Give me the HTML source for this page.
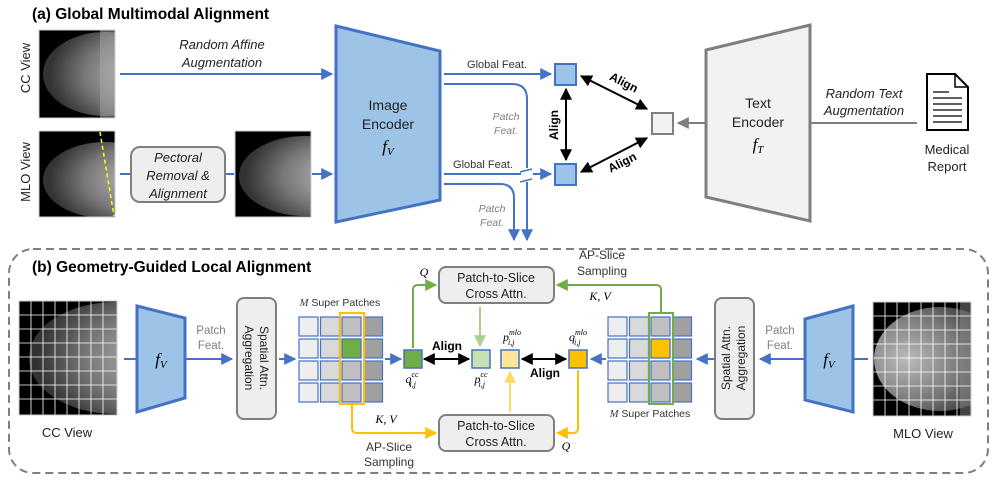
<!DOCTYPE html>
<html><head><meta charset="utf-8"><style>
body{margin:0;background:#fff;}
svg{display:block;font-family:"Liberation Sans",sans-serif;}
</style></head><body>
<svg width="997" height="480" viewBox="0 0 997 480" xmlns="http://www.w3.org/2000/svg">
<defs>
<marker id="ab" viewBox="0 0 10 10" refX="9" refY="5" markerWidth="6" markerHeight="6" orient="auto-start-reverse"><path d="M0,0L10,5L0,10z" fill="#4472c4"/></marker>
<marker id="ak" viewBox="0 0 10 10" refX="9" refY="5" markerWidth="6" markerHeight="6" orient="auto-start-reverse"><path d="M0,0L10,5L0,10z" fill="#000"/></marker>
<marker id="ag" viewBox="0 0 10 10" refX="9" refY="5" markerWidth="6" markerHeight="6" orient="auto-start-reverse"><path d="M0,0L10,5L0,10z" fill="#70ad47"/></marker>
<marker id="alg" viewBox="0 0 10 10" refX="9" refY="5" markerWidth="6" markerHeight="6" orient="auto-start-reverse"><path d="M0,0L10,5L0,10z" fill="#a9d18e"/></marker>
<marker id="ay" viewBox="0 0 10 10" refX="9" refY="5" markerWidth="6" markerHeight="6" orient="auto-start-reverse"><path d="M0,0L10,5L0,10z" fill="#ffc000"/></marker>
<marker id="ay2" viewBox="0 0 10 10" refX="9" refY="5" markerWidth="6" markerHeight="6" orient="auto-start-reverse"><path d="M0,0L10,5L0,10z" fill="#ffd966"/></marker>
<marker id="agr" viewBox="0 0 10 10" refX="9" refY="5" markerWidth="6" markerHeight="6" orient="auto-start-reverse"><path d="M0,0L10,5L0,10z" fill="#7f7f7f"/></marker>
<radialGradient id="br" cx="0.75" cy="0.5" r="0.7"><stop offset="0" stop-color="#bbb"/><stop offset="0.6" stop-color="#777"/><stop offset="1" stop-color="#333"/></radialGradient>
<radialGradient id="brl" cx="0.25" cy="0.5" r="0.7"><stop offset="0" stop-color="#bbb"/><stop offset="0.6" stop-color="#777"/><stop offset="1" stop-color="#333"/></radialGradient>
<clipPath id="c1"><rect x="39" y="30" width="76" height="88"/></clipPath>
<clipPath id="c2"><rect x="39" y="131" width="76" height="86"/></clipPath>
<clipPath id="c3"><rect x="235" y="131" width="76" height="86"/></clipPath>
<clipPath id="c4"><rect x="19" y="301" width="98" height="114"/></clipPath>
<clipPath id="c5"><rect x="873" y="302" width="98" height="114"/></clipPath>
<g id="grid">
<g stroke="#4472c4" stroke-width="1.2">
<rect x="0" y="0" width="19" height="19" fill="#eee"/><rect x="21.5" y="0" width="19" height="19" fill="#d9d9d9"/><rect x="43" y="0" width="19" height="19" fill="#bfbfbf"/><rect x="64.5" y="0" width="19" height="19" fill="#a0a0a0"/>
<rect x="0" y="22" width="19" height="19" fill="#eee"/><rect x="21.5" y="22" width="19" height="19" fill="#d9d9d9"/><rect x="43" y="22" width="19" height="19" fill="#bfbfbf"/><rect x="64.5" y="22" width="19" height="19" fill="#a0a0a0"/>
<rect x="0" y="44" width="19" height="19" fill="#eee"/><rect x="21.5" y="44" width="19" height="19" fill="#d9d9d9"/><rect x="43" y="44" width="19" height="19" fill="#bfbfbf"/><rect x="64.5" y="44" width="19" height="19" fill="#a0a0a0"/>
<rect x="0" y="66" width="19" height="19" fill="#eee"/><rect x="21.5" y="66" width="19" height="19" fill="#d9d9d9"/><rect x="43" y="66" width="19" height="19" fill="#bfbfbf"/><rect x="64.5" y="66" width="19" height="19" fill="#a0a0a0"/>
</g></g>
<g id="wgrid" stroke="#fff" stroke-width="0.8" fill="none">
<path d="M12,0V114M24,0V114M36,0V114M48,0V114M60,0V114M72,0V114M84,0V114M0,14H98M0,28H98M0,42H98M0,56H98M0,70H98M0,84H98M0,98H98"/>
</g>
</defs>

<!-- (a) -->
<text x="32" y="19" font-size="15.5" font-weight="bold">(a) Global Multimodal Alignment</text>
<text transform="translate(30,68) rotate(-90)" font-size="13" text-anchor="middle" fill="#222">CC View</text>
<text transform="translate(30,172) rotate(-90)" font-size="13" text-anchor="middle" fill="#222">MLO View</text>
<rect x="39" y="30" width="76" height="88" fill="#000"/>
<g clip-path="url(#c1)"><ellipse cx="105" cy="74" rx="62" ry="42" fill="url(#br)"/>
<rect x="100" y="30" width="15" height="88" fill="#aaa" opacity="0.5"/></g>
<rect x="39" y="30" width="76" height="88" fill="none" stroke="#ccc"/>
<rect x="39" y="131" width="76" height="86" fill="#000"/>
<g clip-path="url(#c2)"><ellipse cx="105" cy="180" rx="62" ry="38" fill="url(#br)"/></g>
<rect x="39" y="131" width="76" height="86" fill="none" stroke="#ccc"/>
<line x1="100" y1="132" x2="114" y2="216" stroke="#ffff00" stroke-width="1.5" stroke-dasharray="4,3"/>
<rect x="235" y="131" width="76" height="86" fill="#000"/>
<g clip-path="url(#c3)"><ellipse cx="305" cy="176" rx="66" ry="40" fill="url(#br)"/></g>
<rect x="235" y="131" width="76" height="86" fill="none" stroke="#ccc"/>

<text x="222" y="49" font-size="13" font-style="italic" text-anchor="middle" fill="#222">Random Affine</text>
<text x="222" y="67" font-size="13" font-style="italic" text-anchor="middle" fill="#222">Augmentation</text>
<line x1="120" y1="74" x2="332" y2="74" stroke="#4472c4" stroke-width="2" marker-end="url(#ab)"/>
<line x1="120" y1="174" x2="130" y2="174" stroke="#4472c4" stroke-width="2"/>
<rect x="131" y="147" width="94" height="55" rx="9" fill="#eee" stroke="#7f7f7f" stroke-width="2"/>
<text x="178" y="162" font-size="13" font-style="italic" text-anchor="middle" fill="#222">Pectoral</text>
<text x="178" y="180" font-size="13" font-style="italic" text-anchor="middle" fill="#222">Removal &amp;</text>
<text x="178" y="198" font-size="13" font-style="italic" text-anchor="middle" fill="#222">Alignment</text>
<line x1="226" y1="174" x2="234" y2="174" stroke="#4472c4" stroke-width="2"/>
<line x1="312" y1="174" x2="332" y2="174" stroke="#4472c4" stroke-width="2" marker-end="url(#ab)"/>

<path d="M336,26 L440,51 L440,200 L336,222 Z" fill="#9dc3e6" stroke="#4472c4" stroke-width="3"/>
<text x="388" y="110" font-size="14" text-anchor="middle" fill="#222">Image</text>
<text x="388" y="129" font-size="14" text-anchor="middle" fill="#222">Encoder</text>
<text x="388" y="152" font-size="17" font-style="italic" font-family="Liberation Serif,serif" text-anchor="middle">f<tspan font-size="11" dy="3">V</tspan></text>

<text x="497" y="68" font-size="11" text-anchor="middle" fill="#333">Global Feat.</text>
<line x1="444" y1="74" x2="551" y2="74" stroke="#4472c4" stroke-width="2" marker-end="url(#ab)"/>
<path d="M444,84 H512 Q527,84 527,99 V240" fill="none" stroke="#4472c4" stroke-width="2" marker-end="url(#ab)"/>
<text x="506" y="120" font-size="10.5" font-style="italic" text-anchor="middle" fill="#7f7f7f">Patch</text>
<text x="506" y="134" font-size="10.5" font-style="italic" text-anchor="middle" fill="#7f7f7f">Feat.</text>
<text x="483" y="168" font-size="11" text-anchor="middle" fill="#333">Global Feat.</text>
<line x1="444" y1="174" x2="551" y2="174" stroke="#4472c4" stroke-width="2" marker-end="url(#ab)"/>
<path d="M444,184 H500 Q514,184 514,198 V240" fill="none" stroke="#4472c4" stroke-width="2" marker-end="url(#ab)"/>
<rect x="521" y="168" width="12" height="14" fill="#fff"/>
<line x1="520" y1="172" x2="532" y2="169" stroke="#4472c4" stroke-width="1.5"/>
<line x1="520" y1="182" x2="532" y2="179" stroke="#4472c4" stroke-width="1.5"/>
<text x="492" y="212" font-size="10.5" font-style="italic" text-anchor="middle" fill="#7f7f7f">Patch</text>
<text x="492" y="226" font-size="10.5" font-style="italic" text-anchor="middle" fill="#7f7f7f">Feat.</text>

<rect x="555" y="64" width="21" height="21" fill="#9dc3e6" stroke="#4472c4" stroke-width="2"/>
<rect x="555" y="164" width="21" height="21" fill="#9dc3e6" stroke="#4472c4" stroke-width="2"/>
<rect x="652" y="113" width="21" height="21" fill="#f2f2f2" stroke="#7f7f7f" stroke-width="2"/>
<line x1="566" y1="89" x2="566" y2="160" stroke="#000" stroke-width="2" marker-start="url(#ak)" marker-end="url(#ak)"/>
<text transform="translate(558,125) rotate(-90)" font-size="12" font-weight="bold" text-anchor="middle">Align</text>
<line x1="581" y1="76" x2="647" y2="109" stroke="#000" stroke-width="2" marker-start="url(#ak)" marker-end="url(#ak)"/>
<text transform="translate(622,86) rotate(27)" font-size="12" font-weight="bold" text-anchor="middle">Align</text>
<line x1="581" y1="172" x2="647" y2="138" stroke="#000" stroke-width="2" marker-start="url(#ak)" marker-end="url(#ak)"/>
<text transform="translate(624,166) rotate(-27)" font-size="12" font-weight="bold" text-anchor="middle">Align</text>

<line x1="705" y1="123" x2="678" y2="123" stroke="#7f7f7f" stroke-width="2" marker-end="url(#agr)"/>
<path d="M706,50 L810,25 L810,221 L706,197 Z" fill="#f2f2f2" stroke="#7f7f7f" stroke-width="3"/>
<text x="758" y="108" font-size="14" text-anchor="middle" fill="#222">Text</text>
<text x="758" y="127" font-size="14" text-anchor="middle" fill="#222">Encoder</text>
<text x="758" y="150" font-size="17" font-style="italic" font-family="Liberation Serif,serif" text-anchor="middle">f<tspan font-size="11" dy="3">T</tspan></text>
<line x1="811" y1="123" x2="917" y2="123" stroke="#7f7f7f" stroke-width="2"/>
<text x="864" y="98" font-size="13" font-style="italic" text-anchor="middle" fill="#222">Random Text</text>
<text x="864" y="115" font-size="13" font-style="italic" text-anchor="middle" fill="#222">Augmentation</text>
<path d="M927,74 H955 L968,87 V130 H927 Z" fill="#fff" stroke="#000" stroke-width="2"/>
<path d="M955,74 V87 H968" fill="none" stroke="#000" stroke-width="1.5"/>
<path d="M933,92H949M933,98H962M933,104H962M933,110H962M933,116H962M933,122H962" stroke="#000" stroke-width="1.2"/>
<text x="947" y="154" font-size="13" text-anchor="middle" fill="#222">Medical</text>
<text x="947" y="171" font-size="13" text-anchor="middle" fill="#222">Report</text>

<!-- (b) -->
<rect x="9" y="249" width="979" height="224" rx="24" fill="none" stroke="#7f7f7f" stroke-width="2" stroke-dasharray="8,5"/>
<text x="32" y="272" font-size="15.5" font-weight="bold">(b) Geometry-Guided Local Alignment</text>

<rect x="19" y="301" width="98" height="114" fill="#000"/>
<g clip-path="url(#c4)"><ellipse cx="115" cy="358" rx="86" ry="56" fill="url(#br)"/></g>
<use href="#wgrid" x="19" y="301"/>
<rect x="19" y="301" width="98" height="114" fill="none" stroke="#ccc"/>
<text x="67" y="437" font-size="13" text-anchor="middle" fill="#222">CC View</text>
<line x1="124" y1="359" x2="137" y2="359" stroke="#4472c4" stroke-width="2"/>
<path d="M137,306 L185,318 L185,398 L137,412 Z" fill="#9dc3e6" stroke="#4472c4" stroke-width="3"/>
<text x="161" y="365" font-size="17" font-style="italic" font-family="Liberation Serif,serif" text-anchor="middle">f<tspan font-size="11" dy="3">V</tspan></text>
<text x="211" y="334" font-size="11.5" text-anchor="middle" fill="#7f7f7f">Patch</text>
<text x="211" y="349" font-size="11.5" text-anchor="middle" fill="#7f7f7f">Feat.</text>
<line x1="186" y1="359" x2="232" y2="359" stroke="#4472c4" stroke-width="2" marker-end="url(#ab)"/>
<rect x="237" y="298" width="39" height="121" rx="7" fill="#eee" stroke="#7f7f7f" stroke-width="2"/>
<text transform="translate(260,358) rotate(90)" font-size="12" text-anchor="middle" fill="#222">Spatial Attn.</text>
<text transform="translate(245,358) rotate(90)" font-size="12" text-anchor="middle" fill="#222">Aggregation</text>
<line x1="279" y1="359" x2="295" y2="359" stroke="#4472c4" stroke-width="2" marker-end="url(#ab)"/>

<text x="340" y="306" font-size="10.5" text-anchor="middle" fill="#333"><tspan font-style="italic" font-family="Liberation Serif,serif">M</tspan> Super Patches</text>
<use href="#grid" x="299" y="317"/>
<rect x="342" y="339" width="19" height="19" fill="#70ad47" stroke="#4472c4" stroke-width="1.2"/>
<rect x="340" y="313" width="24" height="91" fill="none" stroke="#ffc000" stroke-width="2"/>
<line x1="385" y1="359" x2="401" y2="359" stroke="#4472c4" stroke-width="2" marker-end="url(#ab)"/>
<rect x="404" y="350" width="18" height="18" fill="#70ad47" stroke="#4472c4" stroke-width="1.5"/>
<text x="412" y="383" font-size="12" font-style="italic" font-family="Liberation Serif,serif" text-anchor="middle">q<tspan font-size="8" dy="-6">cc</tspan><tspan font-size="8" dx="-9" dy="10">i,j</tspan></text>
<line x1="424" y1="359" x2="469" y2="359" stroke="#000" stroke-width="2" marker-start="url(#ak)" marker-end="url(#ak)"/>
<text x="447" y="350" font-size="12" font-weight="bold" text-anchor="middle">Align</text>
<rect x="472" y="350" width="18" height="18" fill="#c5e0b4" stroke="#4472c4" stroke-width="1.5"/>
<text x="481" y="383" font-size="12" font-style="italic" font-family="Liberation Serif,serif" text-anchor="middle">p<tspan font-size="8" dy="-6">cc</tspan><tspan font-size="8" dx="-9" dy="10">i,j</tspan></text>
<rect x="501" y="350" width="18" height="18" fill="#ffe699" stroke="#4472c4" stroke-width="1.5"/>
<text x="512" y="341" font-size="12" font-style="italic" font-family="Liberation Serif,serif" text-anchor="middle">p<tspan font-size="8" dy="-6">mlo</tspan><tspan font-size="8" dx="-13" dy="10">i,j</tspan></text>
<line x1="522" y1="359" x2="566" y2="359" stroke="#000" stroke-width="2" marker-start="url(#ak)" marker-end="url(#ak)"/>
<text x="545" y="377" font-size="12" font-weight="bold" text-anchor="middle">Align</text>
<rect x="569" y="350" width="18" height="18" fill="#ffc000" stroke="#4472c4" stroke-width="1.5"/>
<text x="578" y="341" font-size="12" font-style="italic" font-family="Liberation Serif,serif" text-anchor="middle">q<tspan font-size="8" dy="-6">mlo</tspan><tspan font-size="8" dx="-13" dy="10">i,j</tspan></text>
<line x1="606" y1="359" x2="591" y2="359" stroke="#4472c4" stroke-width="2" marker-end="url(#ab)"/>

<use href="#grid" x="608" y="317"/>
<rect x="651" y="339" width="19" height="19" fill="#ffc000" stroke="#4472c4" stroke-width="1.2"/>
<rect x="649" y="313" width="24" height="91" fill="none" stroke="#70ad47" stroke-width="2"/>
<text x="650" y="417" font-size="10.5" text-anchor="middle" fill="#333"><tspan font-style="italic" font-family="Liberation Serif,serif">M</tspan> Super Patches</text>

<rect x="439" y="267" width="115" height="36" rx="7" fill="#eee" stroke="#7f7f7f" stroke-width="2"/>
<text x="496" y="282" font-size="12.5" text-anchor="middle" fill="#222">Patch-to-Slice</text>
<text x="496" y="298" font-size="12.5" text-anchor="middle" fill="#222">Cross Attn.</text>
<rect x="439" y="415" width="115" height="36" rx="7" fill="#eee" stroke="#7f7f7f" stroke-width="2"/>
<text x="496" y="430" font-size="12.5" text-anchor="middle" fill="#222">Patch-to-Slice</text>
<text x="496" y="446" font-size="12.5" text-anchor="middle" fill="#222">Cross Attn.</text>

<path d="M413,348 V290 Q413,285 418,285 H436" fill="none" stroke="#70ad47" stroke-width="2" marker-end="url(#ag)"/>
<text x="424" y="276" font-size="12" font-style="italic" font-family="Liberation Serif,serif" text-anchor="middle">Q</text>
<path d="M661,312 V290 Q661,285 656,285 H557" fill="none" stroke="#70ad47" stroke-width="2" marker-end="url(#ag)"/>
<text x="602" y="259" font-size="12" text-anchor="middle" fill="#333">AP-Slice</text>
<text x="602" y="275" font-size="12" text-anchor="middle" fill="#333">Sampling</text>
<text x="600" y="300" font-size="12" font-style="italic" font-family="Liberation Serif,serif" text-anchor="middle">K, V</text>
<line x1="480" y1="307" x2="480" y2="346" stroke="#a9d18e" stroke-width="2" marker-end="url(#alg)"/>
<path d="M352,405 V428 Q352,433 357,433 H436" fill="none" stroke="#ffc000" stroke-width="2" marker-end="url(#ay)"/>
<text x="386" y="423" font-size="12" font-style="italic" font-family="Liberation Serif,serif" text-anchor="middle">K, V</text>
<text x="389" y="451" font-size="12" text-anchor="middle" fill="#333">AP-Slice</text>
<text x="389" y="466" font-size="12" text-anchor="middle" fill="#333">Sampling</text>
<path d="M578,370 V428 Q578,433 573,433 H557" fill="none" stroke="#ffc000" stroke-width="2" marker-end="url(#ay)"/>
<text x="566" y="450" font-size="12" font-style="italic" font-family="Liberation Serif,serif" text-anchor="middle">Q</text>
<line x1="510" y1="412" x2="510" y2="372" stroke="#ffd966" stroke-width="2" marker-end="url(#ay2)"/>

<line x1="714" y1="359" x2="697" y2="359" stroke="#4472c4" stroke-width="2" marker-end="url(#ab)"/>
<rect x="715" y="298" width="39" height="121" rx="7" fill="#eee" stroke="#7f7f7f" stroke-width="2"/>
<text transform="translate(730,358) rotate(-90)" font-size="12" text-anchor="middle" fill="#222">Spatial Attn.</text>
<text transform="translate(745,358) rotate(-90)" font-size="12" text-anchor="middle" fill="#222">Aggregation</text>
<text x="780" y="334" font-size="11.5" text-anchor="middle" fill="#7f7f7f">Patch</text>
<text x="780" y="349" font-size="11.5" text-anchor="middle" fill="#7f7f7f">Feat.</text>
<line x1="804" y1="359" x2="760" y2="359" stroke="#4472c4" stroke-width="2" marker-end="url(#ab)"/>
<path d="M805,319 L853,306 L853,412 L805,400 Z" fill="#9dc3e6" stroke="#4472c4" stroke-width="3"/>
<text x="829" y="365" font-size="17" font-style="italic" font-family="Liberation Serif,serif" text-anchor="middle">f<tspan font-size="11" dy="3">V</tspan></text>
<line x1="854" y1="359" x2="868" y2="359" stroke="#4472c4" stroke-width="2"/>
<rect x="873" y="302" width="98" height="114" fill="#000"/>
<g clip-path="url(#c5)"><ellipse cx="940" cy="359" rx="66" ry="52" fill="url(#brl)"/>
<rect x="960" y="302" width="11" height="114" fill="#888" opacity="0.5"/></g>
<use href="#wgrid" x="873" y="302"/>
<rect x="873" y="302" width="98" height="114" fill="none" stroke="#ccc"/>
<text x="923" y="438" font-size="13" text-anchor="middle" fill="#222">MLO View</text>
</svg>
</body></html>
